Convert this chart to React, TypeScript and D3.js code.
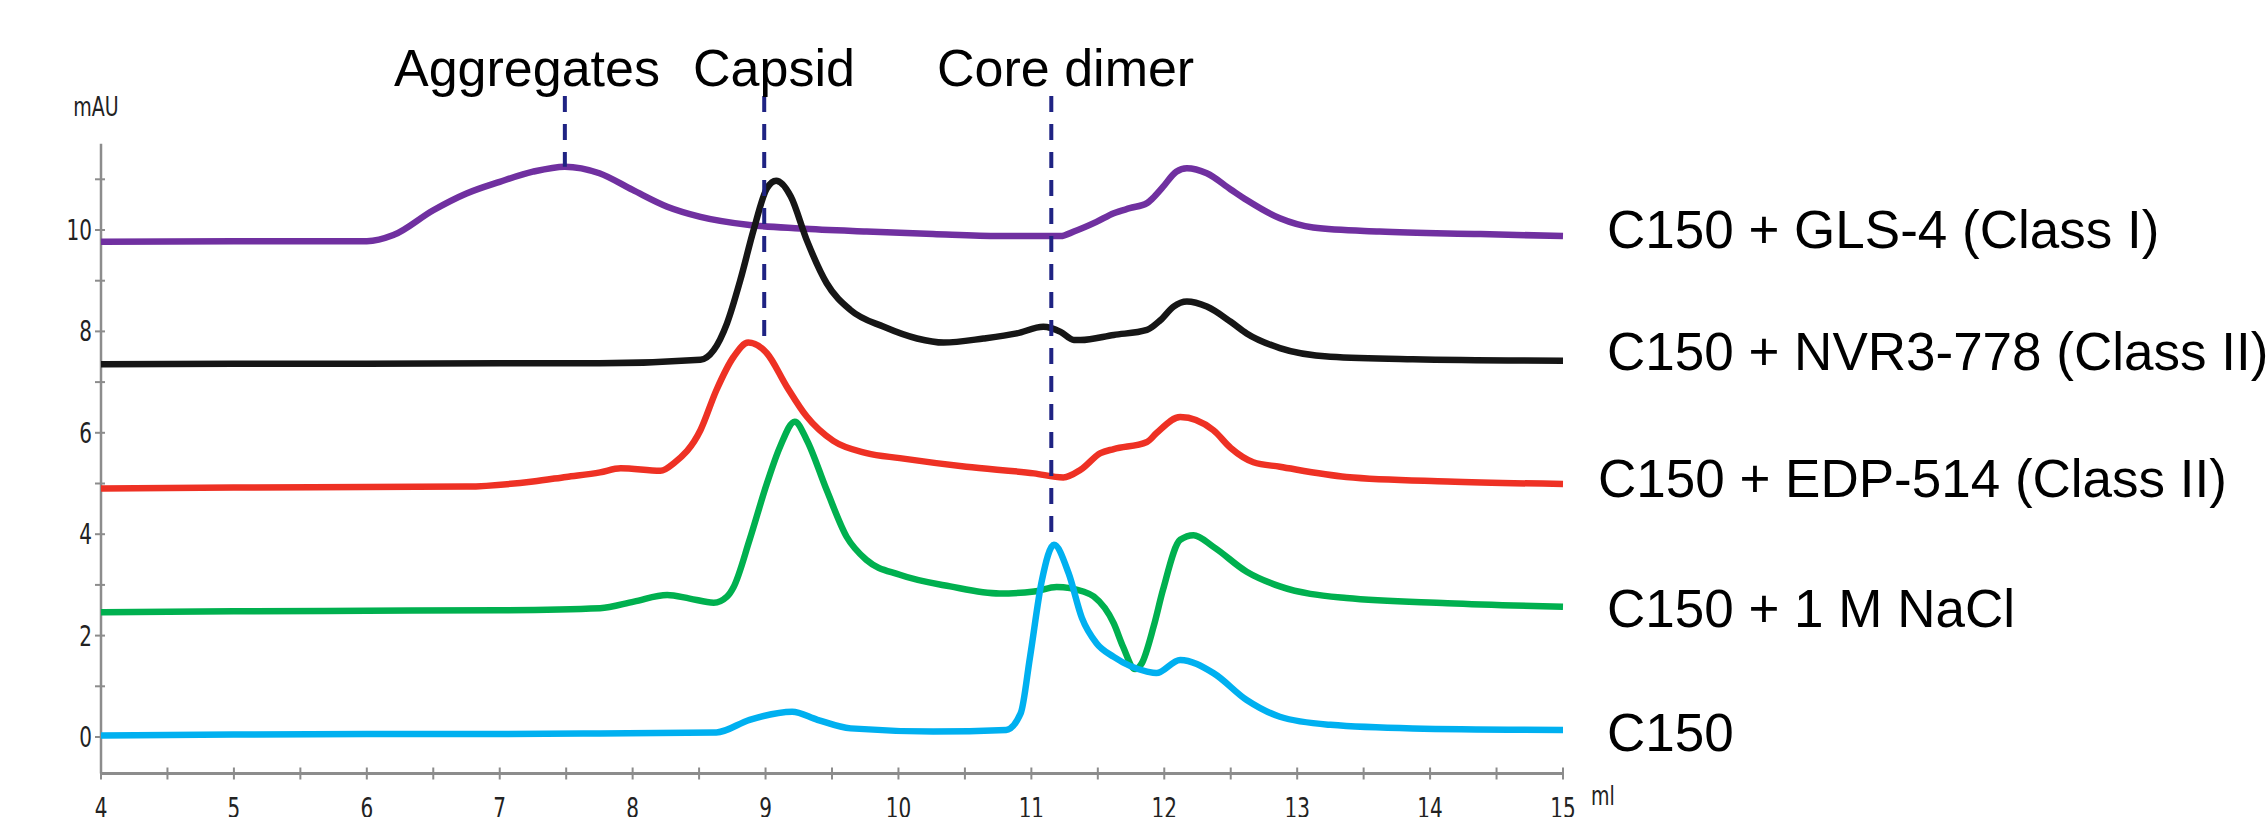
import React from "react";
import * as d3 from "d3";

// ---------- data ----------
const xTickValues = [4, 5, 6, 7, 8, 9, 10, 11, 12, 13, 14, 15];
const yTickValues = [0, 2, 4, 6, 8, 10];

const seriesNames = [
  "C150 + GLS-4 (Class I)",
  "C150 + NVR3-778 (Class II)",
  "C150 + EDP-514 (Class II)",
  "C150 + 1 M NaCl",
  "C150",
];

const gls4Ml = [4, 5, 6.0, 6.2, 6.5, 6.75, 7.0, 7.25, 7.49, 7.75, 8.0, 8.26, 8.51, 8.88, 9.26, 9.76, 10.26, 10.76, 11.22, 11.32, 11.49, 11.62, 11.74, 11.87, 11.91, 11.99, 12.09, 12.17, 12.32, 12.5, 12.62, 12.87, 13.12, 13.62, 14.38, 15.0];
const gls4Val = [9.77, 9.78, 9.78, 9.9, 10.39, 10.72, 10.95, 11.15, 11.25, 11.12, 10.79, 10.46, 10.26, 10.1, 10.03, 9.97, 9.92, 9.88, 9.88, 9.97, 10.16, 10.33, 10.43, 10.53, 10.62, 10.85, 11.15, 11.22, 11.12, 10.8, 10.59, 10.23, 10.05, 9.97, 9.92, 9.88];

const nvrMl = [4, 5, 6, 7, 7.75, 8.51, 8.61, 8.71, 8.81, 8.91, 9.01, 9.08, 9.19, 9.31, 9.46, 9.64, 9.89, 10.14, 10.34, 10.64, 10.89, 11.09, 11.22, 11.32, 11.37, 11.62, 11.87, 11.97, 12.07, 12.17, 12.32, 12.5, 12.62, 12.87, 13.25, 13.87, 15.0];
const nvrVal = [7.35, 7.36, 7.36, 7.37, 7.37, 7.44, 7.63, 8.16, 9.01, 10.0, 10.82, 10.97, 10.66, 9.8, 8.95, 8.42, 8.09, 7.86, 7.78, 7.86, 7.96, 8.09, 7.99, 7.83, 7.83, 7.93, 8.03, 8.22, 8.49, 8.59, 8.49, 8.19, 7.96, 7.67, 7.5, 7.45, 7.42];

const edpMl = [4, 5, 6, 6.75, 7.25, 7.5, 7.755, 7.91, 8.21, 8.31, 8.51, 8.63, 8.76, 8.87, 9.01, 9.16, 9.31, 9.51, 9.76, 10.01, 10.51, 11.02, 11.24, 11.37, 11.52, 11.62, 11.87, 11.94, 12.12, 12.37, 12.5, 12.67, 12.87, 13.37, 14.13, 15.0];
const edpVal = [4.9, 4.92, 4.93, 4.94, 5.04, 5.13, 5.22, 5.3, 5.25, 5.4, 6.05, 6.84, 7.5, 7.78, 7.57, 6.91, 6.32, 5.84, 5.6, 5.5, 5.33, 5.2, 5.12, 5.27, 5.6, 5.68, 5.82, 5.99, 6.31, 6.05, 5.7, 5.42, 5.33, 5.13, 5.04, 4.99];

const naclMl = [4, 5, 6, 7, 7.755, 8.01, 8.26, 8.43, 8.61, 8.71, 8.76, 8.88, 9.01, 9.11, 9.22, 9.31, 9.46, 9.61, 9.76, 10.01, 10.39, 10.76, 11.02, 11.19, 11.39, 11.47, 11.62, 11.69, 11.78, 11.83, 11.92, 11.99, 12.12, 12.22, 12.37, 12.62, 12.87, 13.37, 14.13, 15.0];
const naclVal = [2.46, 2.48, 2.49, 2.5, 2.54, 2.67, 2.8, 2.73, 2.65, 2.77, 2.96, 3.89, 5.0, 5.73, 6.22, 5.86, 4.87, 3.95, 3.49, 3.2, 2.97, 2.83, 2.87, 2.96, 2.87, 2.77, 2.24, 1.78, 1.34, 1.45, 2.18, 2.9, 3.89, 3.98, 3.75, 3.26, 2.97, 2.74, 2.64, 2.57];

const c150Ml = [4, 5, 6, 7, 7.755, 8.63, 8.88, 9.2, 9.39, 9.64, 10.26, 10.81, 10.92, 10.99, 11.08, 11.17, 11.28, 11.38, 11.49, 11.62, 11.87, 11.94, 12.12, 12.37, 12.62, 12.87, 13.25, 13.87, 15.0];
const c150Val = [0.03, 0.05, 0.06, 0.06, 0.07, 0.09, 0.34, 0.5, 0.34, 0.17, 0.11, 0.14, 0.47, 1.58, 3.1, 3.79, 3.23, 2.35, 1.85, 1.58, 1.29, 1.26, 1.52, 1.26, 0.73, 0.4, 0.24, 0.17, 0.14];

const seriesColors = ["#7030a0", "#161616", "#ee3124", "#00b04f", "#00b0f0"];

// annotation labels and dashed markers (ml position, bottom value)
const markerLabels = ["Aggregates", "Capsid", "Core dimer"];
const markerMl = [7.49, 8.99, 11.15];
const markerBottom = [11.25, 7.75, 3.9];

// ---------- layout ----------
const W = 2266;
const H = 817;
const x = d3.scaleLinear().domain([4, 15]).range([101, 1563]);
const y = d3.scaleLinear().domain([0, 10]).range([737, 230]);
const yAxisTop = 143.7;
const xAxisY = 773.5;
const AXIS = "#8c8c8c";
const TICK_FONT = "'DejaVu Sans', Verdana, sans-serif";
const LABEL_FONT = "'Liberation Sans', Arial, sans-serif";
const STRETCH = 1.38;
const TICK_SIZE = 20;

const legendX = [1607, 1607, 1598, 1607, 1607];
const legendBaseline = [248, 370, 497, 627, 751];
const markerLabelX = [394, 693, 937];

export default function App() {
  const allSeries = [
    { ml: gls4Ml, val: gls4Val },
    { ml: nvrMl, val: nvrVal },
    { ml: edpMl, val: edpVal },
    { ml: naclMl, val: naclVal },
    { ml: c150Ml, val: c150Val },
  ];
  const line = d3
    .line<[number, number]>()
    .x((d) => x(d[0]))
    .y((d) => y(d[1]))
    .curve(d3.curveMonotoneX);

  const xMinor = d3.range(4, 15.01, 0.5);
  const yMinor = d3.range(0, 11.01, 1);
  const capHalf = 0.365 * TICK_SIZE * STRETCH;

  return (
    <div style={{ position: "absolute", left: 0, top: 0, width: W, height: H, background: "#fff" }}>
      <svg width={W} height={H} viewBox={`0 0 ${W} ${H}`} style={{ display: "block" }}>
        <rect x={0} y={0} width={W} height={H} fill="#fff" />
        {/* axes */}
        <line x1={x(4)} x2={x(4)} y1={yAxisTop} y2={xAxisY} stroke={AXIS} strokeWidth={2.5} />
        <line x1={x(4)} x2={x(15)} y1={xAxisY} y2={xAxisY} stroke={AXIS} strokeWidth={3} />
        {yMinor.map((v) => (
          <line key={"yt" + v} x1={x(4) - 6} x2={x(4) + 4} y1={y(v)} y2={y(v)} stroke={AXIS} strokeWidth={2} />
        ))}
        {xMinor.map((v) => (
          <line key={"xt" + v} x1={x(v)} x2={x(v)} y1={xAxisY - 6} y2={xAxisY + 6} stroke={AXIS} strokeWidth={2} />
        ))}
        {yTickValues.map((v) => (
          <text
            key={"yl" + v}
            transform={`translate(92, ${y(v) + capHalf}) scale(1, ${STRETCH})`}
            textAnchor="end"
            fontFamily={TICK_FONT}
            fontSize={TICK_SIZE}
            fill="#222"
          >
            {v}
          </text>
        ))}
        {xTickValues.map((v) => (
          <text
            key={"xl" + v}
            transform={`translate(${x(v)}, 818) scale(1, ${STRETCH})`}
            textAnchor="middle"
            fontFamily={TICK_FONT}
            fontSize={TICK_SIZE}
            fill="#222"
          >
            {v}
          </text>
        ))}
        <text transform={`translate(96, 116) scale(1, ${STRETCH})`} textAnchor="middle" fontFamily={TICK_FONT} fontSize={19} fill="#222">
          mAU
        </text>
        <text transform={`translate(1591, 805) scale(1, ${STRETCH})`} fontFamily={TICK_FONT} fontSize={19} fill="#222">
          ml
        </text>

        {/* traces */}
        {allSeries.map((s, i) => (
          <path
            key={"s" + i}
            d={line(s.ml.map((m, j) => [m, s.val[j]] as [number, number])) || ""}
            fill="none"
            stroke={seriesColors[i]}
            strokeWidth={6.5}
            strokeLinejoin="round"
            strokeLinecap="butt"
          />
        ))}

        {/* dashed markers */}
        {markerMl.map((m, i) => (
          <line
            key={"m" + i}
            x1={x(m)}
            x2={x(m)}
            y1={96}
            y2={y(markerBottom[i])}
            stroke="#1f2383"
            strokeWidth={4}
            strokeDasharray="16 12"
          />
        ))}
        {markerLabels.map((t, i) => (
          <text key={"ml" + i} x={markerLabelX[i]} y={86} fontFamily={LABEL_FONT} fontSize={52} fill="#000">
            {t}
          </text>
        ))}

        {/* series labels */}
        {seriesNames.map((t, i) => (
          <text key={"lg" + i} x={legendX[i]} y={legendBaseline[i]} fontFamily={LABEL_FONT} fontSize={53} fill="#000">
            {t}
          </text>
        ))}
      </svg>
    </div>
  );
}
